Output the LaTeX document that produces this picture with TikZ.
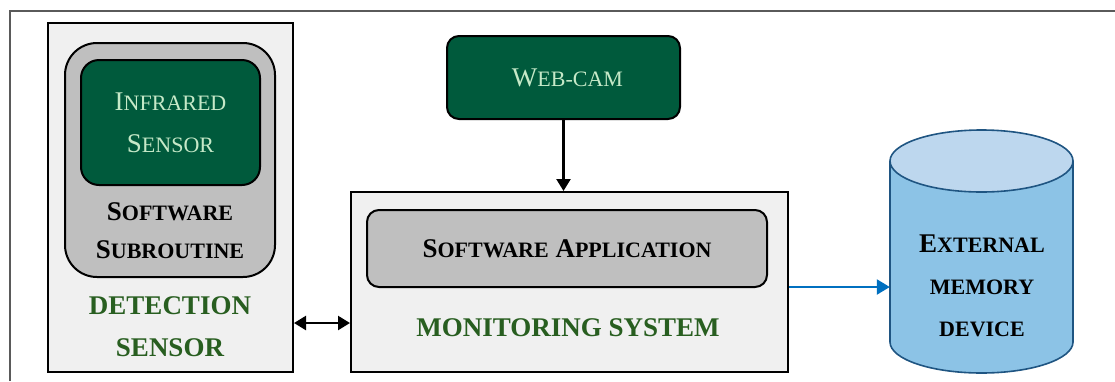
\documentclass[tikz,border=0pt]{standalone}
\usepackage{fontspec}
\setmainfont{Liberation Serif}
\usetikzlibrary{arrows.meta}
\definecolor{dkgreen}{RGB}{0,90,60}
\definecolor{ltgreen}{RGB}{198,233,200}
\definecolor{lblgreen}{RGB}{40,94,32}
\definecolor{boxgray}{RGB}{240,240,240}
\definecolor{midgray}{RGB}{191,191,191}
\definecolor{cylbody}{RGB}{140,195,230}
\definecolor{cyltop}{RGB}{189,215,238}
\definecolor{cylline}{RGB}{31,85,130}
\definecolor{arrblue}{RGB}{0,112,192}
\definecolor{framegray}{RGB}{90,90,90}
\newcommand\smc[1]{{\fontsize{22}{26}\selectfont #1}}
\begin{document}
\begin{tikzpicture}[x=1pt,y=-1pt,
  txt/.style={font=\fontsize{27}{42}\selectfont, align=center, inner sep=0pt},
  btxt/.style={font=\bfseries\fontsize{27}{42}\selectfont, align=center, inner sep=0pt},
  lightbox/.style={draw=black, line width=2pt, fill=boxgray, inner sep=0pt},
  graybox/.style={draw=black, line width=2pt, fill=midgray, inner sep=0pt},
  greenbox/.style={draw=black, line width=2pt, fill=dkgreen, text=ltgreen, inner sep=0pt},
  blkarrow/.style={line width=2.3pt, -{Triangle[length=12pt,width=14pt]}},
  dblarrow/.style={line width=2.3pt, {Triangle[length=12pt,width=14pt]}-{Triangle[length=12pt,width=14pt]}},
  bluearrow/.style={arrblue, line width=2.3pt, -{Triangle[length=13pt,width=15pt]}}
]
\useasboundingbox (0,0) rectangle (1115,381);
\fill[white] (0,0) rectangle (1115,381);
% outer frame
\coordinate (fbl) at (10,381);
\coordinate (ftl) at (10,11);
\coordinate (ftr) at (1115,11);
\draw[framegray, line width=1.2pt] (fbl) -- (ftl) -- (ftr);

% detection sensor
\node[lightbox, minimum width=245pt, minimum height=349pt] (det) at (170.5,197.5) {};
\node[graybox, rounded corners=32pt, minimum width=210pt, minimum height=234pt] (sub) at (170,160) {};
\node[greenbox, txt, text=ltgreen, rounded corners=18pt, minimum width=179pt, minimum height=125pt] (ir) at (170.5,122.5) {I\smc{NFRARED}\\S\smc{ENSOR}};
\node[btxt, font=\bfseries\fontsize{27}{38}\selectfont] (subl) at (170,231) {S\smc{OFTWARE}\\S\smc{UBROUTINE}};
\node[btxt, text=lblgreen] (detl) at (170,327) {DETECTION\\SENSOR};

% web-cam
\node[greenbox, txt, text=ltgreen, rounded corners=12pt, minimum width=233pt, minimum height=83pt] (web) at (563.5,77.5) {\hspace*{8pt}W\smc{EB-CAM}};

% monitoring system
\node[lightbox, minimum width=437pt, minimum height=180pt] (mon) at (569.5,282) {};
\node[graybox, btxt, rounded corners=12pt, minimum width=400pt, minimum height=77pt] (app) at (567,248.5) {S\smc{OFTWARE} A\smc{PPLICATION}};
\node[btxt, text=lblgreen] (monl) at (568,328) {MONITORING SYSTEM};

% external memory cylinder
\fill[cylbody] (890,161) -- (890,342) arc[start angle=180, end angle=0, x radius=91.5, y radius=31] -- (1073,161) -- cycle;
\draw[cylline, line width=1.6pt] (890,161) -- (890,342) arc[start angle=180, end angle=0, x radius=91.5, y radius=31] -- (1073,161);
\draw[cylline, line width=1.6pt, fill=cyltop] (981.5,161) ellipse[x radius=91.5, y radius=31];
\node[inner sep=0pt, minimum width=183pt, minimum height=243pt] (cyl) at (981.5,251.5) {};
\node[btxt] (meml) at (982,286) {E\smc{XTERNAL}\\\smc{MEMORY}\\\smc{DEVICE}};

% connectors
\coordinate (dy) at (0,323);
\coordinate (by) at (0,287);
\draw[blkarrow] (web.south) -- (web.south |- mon.north);
\draw[dblarrow] (det.east |- dy) -- (mon.west |- dy);
\draw[bluearrow] (mon.east |- by) -- (cyl.west |- by);
\end{tikzpicture}
\end{document}
